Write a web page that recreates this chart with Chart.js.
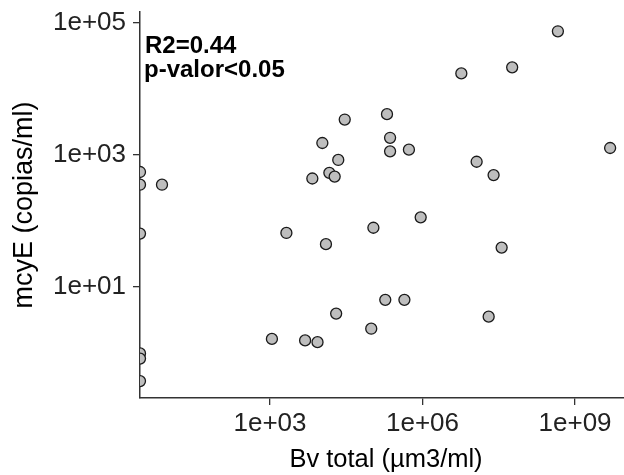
<!DOCTYPE html>
<html>
<head>
<meta charset="utf-8">
<script src="https://cdn.jsdelivr.net/npm/chart.js@4/dist/chart.umd.min.js"></script>
<style>
  html, body { margin: 0; padding: 0; background: #fff; overflow: hidden; }
  #wrap { width: 640px; height: 475px; }
</style>
</head>
<body>
<div id="wrap"><canvas id="scatter"></canvas></div>
<script>
// x = 0 points (log -> -Inf) sit on the left edge, so they use the axis minimum
const X_MIN = 2.77;
const X_MAX = 1.32e10;
const Y_MIN = 0.205;
const Y_MAX = 1.45e5;

const bvTotal = [
  4.6e8, 5.8e7, 5.8e6, 2.95e4, 2.0e5, 1.07e4, 2.3e5, 2.3e5, 5.4e5, 2.2e4,
  1.47e4, 1.87e4, 6.8e3, 1.16e7, 2.5e7, 4.9e9, 9.2e5, 1.08e5, 1.26e4, X_MIN,
  X_MIN, 7.5, 2.1e3, X_MIN, 1.09e3, 4.9e3, 8.6e3, X_MIN, X_MIN, X_MIN,
  3.6e7, 2.0e4, 1.85e5, 4.4e5, 2.0e7, 9.8e4,
];
const mcyE = [
  7.4e4, 2.1e4, 1.7e4, 3.4e3, 4.1e3, 1.5e3, 1.8e3, 1.12e3, 1.19e3, 830,
  530, 465, 435, 780, 490, 1.26e3, 112, 78, 44, 545,
  350, 350, 65, 63.5, 1.61, 1.53, 1.44, 0.97, 0.81, 0.37,
  39, 3.9, 6.3, 6.3, 3.5, 2.3,
];

const xTickValues = [1e3, 1e6, 1e9];
const xTickLabels = ["1e+03", "1e+06", "1e+09"];
const yTickValues = [1e1, 1e3, 1e5];
const yTickLabels = ["1e+01", "1e+03", "1e+05"];

const statLines = ["R2=0.44", "p-valor<0.05"];

const FONT = "'Liberation Sans', Arial, sans-serif";

const statsLabel = {
  id: "statsLabel",
  afterDatasetsDraw(chart) {
    const ctx = chart.ctx;
    ctx.save();
    ctx.fillStyle = "#000";
    ctx.font = "bold 24px " + FONT;
    ctx.textAlign = "left";
    ctx.textBaseline = "alphabetic";
    ctx.fillText(statLines[0], 145, 53);
    ctx.fillText(statLines[1], 144, 77);
    ctx.restore();
  },
};

function axisStyle() {
  return {
    grid: {
      display: true,
      drawOnChartArea: false,
      drawTicks: true,
      tickLength: 7,
      color: "#333",
      lineWidth: 1.3,
    },
    border: { display: true, color: "#333", width: 1.5 },
  };
}

new Chart(document.getElementById("scatter").getContext("2d"), {
  type: "scatter",
  data: {
    datasets: [
      {
        data: bvTotal.map((x, i) => ({ x: x, y: mcyE[i] })),
        backgroundColor: "#bebebe",
        borderColor: "#1a1a1a",
        borderWidth: 1.3,
        pointRadius: 5.5,
        pointHoverRadius: 5.5,
      },
    ],
  },
  options: {
    responsive: true,
    maintainAspectRatio: false,
    animation: false,
    layout: { padding: { top: 12, right: 8, left: 0, bottom: 0 } },
    plugins: { legend: { display: false }, tooltip: { enabled: false } },
    scales: {
      x: {
        type: "logarithmic",
        min: X_MIN,
        max: X_MAX,
        ...axisStyle(),
        afterBuildTicks: (scale) => {
          scale.ticks = xTickValues.map((v) => ({ value: v }));
        },
        afterFit: (scale) => {
          scale.height = 77;
          scale.paddingLeft = 0;
          scale.paddingRight = 0;
        },
        ticks: {
          autoSkip: false,
          maxRotation: 0,
          padding: 3.4,
          color: "#222",
          font: { family: FONT, size: 26 },
          callback: (v) => xTickLabels[xTickValues.indexOf(v)],
        },
        title: {
          display: true,
          text: "Bv total (µm3/ml)",
          color: "#000",
          font: { family: FONT, size: 25.5 },
          padding: { top: 0, bottom: 0 },
        },
      },
      y: {
        type: "logarithmic",
        min: Y_MIN,
        max: Y_MAX,
        ...axisStyle(),
        afterBuildTicks: (scale) => {
          scale.ticks = yTickValues.map((v) => ({ value: v }));
        },
        afterFit: (scale) => {
          scale.width = 140;
          scale.paddingTop = 0;
          scale.paddingBottom = 0;
        },
        ticks: {
          autoSkip: false,
          padding: 7,
          color: "#222",
          font: { family: FONT, size: 26 },
          callback: (v) => yTickLabels[yTickValues.indexOf(v)],
        },
        title: {
          display: true,
          text: "mcyE (copias/ml)",
          color: "#000",
          font: { family: FONT, size: 27 },
          padding: { top: 8, bottom: 0 },
        },
      },
    },
  },
  plugins: [statsLabel],
});
</script>
</body>
</html>
